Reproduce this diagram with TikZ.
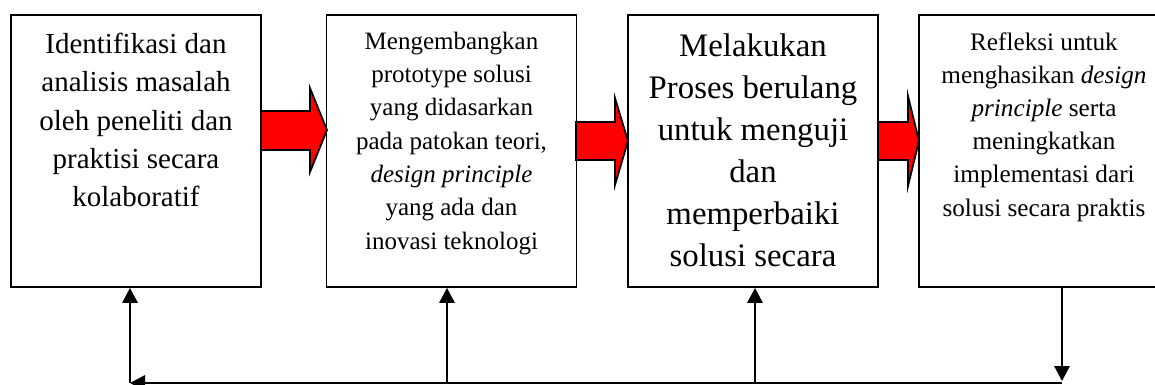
\documentclass[tikz,border=0pt]{standalone}
\usepackage{fontspec}
\setmainfont{Liberation Serif}
\usetikzlibrary{arrows.meta}
\tikzset{
  box/.style={draw=black, line width=1.4pt, rectangle, minimum width=187.5pt, minimum height=204pt, inner sep=0pt},
  txt/.style={align=center, anchor=base, inner sep=0pt},
  redarrow/.style={fill=red, draw=black, line width=1.3pt, line join=miter},
  fb/.style={draw=black, line width=1.6pt, -{Triangle[length=11.25pt,width=11.5pt]}},
}
\begin{document}
\begin{tikzpicture}[x=0.75pt,y=-0.75pt]
\useasboundingbox (0,0) rectangle (1155,385);
\clip (0,0) rectangle (1155,385);
\fill[white] (0,0) rectangle (1155,385);
% red block arrows
\draw[redarrow] (261,111) -- (310,111) -- (310,88) -- (327,130) -- (310,172) -- (310,150) -- (261,150) -- cycle;
\draw[redarrow] (576,122) -- (615,122) -- (615,98) -- (628,141) -- (615,185) -- (615,160) -- (576,160) -- cycle;
\draw[redarrow] (878,122) -- (908,122) -- (908,96) -- (919,141) -- (908,186) -- (908,160) -- (878,160) -- cycle;
% boxes
\node[box] (b1) at (136,151) {};
\node[box] (b2) at (451.5,151) {};
\node[box] (b3) at (753,151) {};
\node[box] (b4) at (1044,151) {};
% texts (anchor = baseline of last line)
\node[txt, font=\fontsize{21.75pt}{28.7pt}\selectfont] (t1) at (136,206.7)
  {Identifikasi dan\\analisis masalah\\oleh peneliti dan\\praktisi secara\\kolaboratif};
\node[txt, font=\fontsize{18.75pt}{25pt}\selectfont] (t2) at (451.5,249.3)
  {Mengembangkan\\prototype solusi\\yang didasarkan\\pada patokan teori,\\\textit{design principle}\\yang ada dan\\inovasi teknologi};
\node[txt, font=\fontsize{24.6pt}{31.5pt}\selectfont] (t3) at (753,266)
  {Melakukan\\Proses berulang\\untuk menguji\\dan\\memperbaiki\\solusi secara};
\node[txt, font=\fontsize{18.9pt}{24.9pt}\selectfont] (t4) at (1044,216)
  {Refleksi untuk\\menghasikan \textit{design}\\\textit{principle} serta\\meningkatkan\\implementasi dari\\solusi secara praktis};
% feedback loop
\coordinate (c1) at (130,383);
\coordinate (c2) at (447,383);
\coordinate (c3) at (755,383);
\coordinate (c4) at (1062,383);
\coordinate (c4e) at (1062,381);
\draw[fb] (c4) -- (c1);
\draw[fb] (c1) -- (c1 |- b1.south);
\draw[fb] (c2) -- (c2 |- b2.south);
\draw[fb] (c3) -- (c3 |- b3.south);
\draw[fb] (c4 |- b4.south) -- (c4e);
\end{tikzpicture}
\end{document}
